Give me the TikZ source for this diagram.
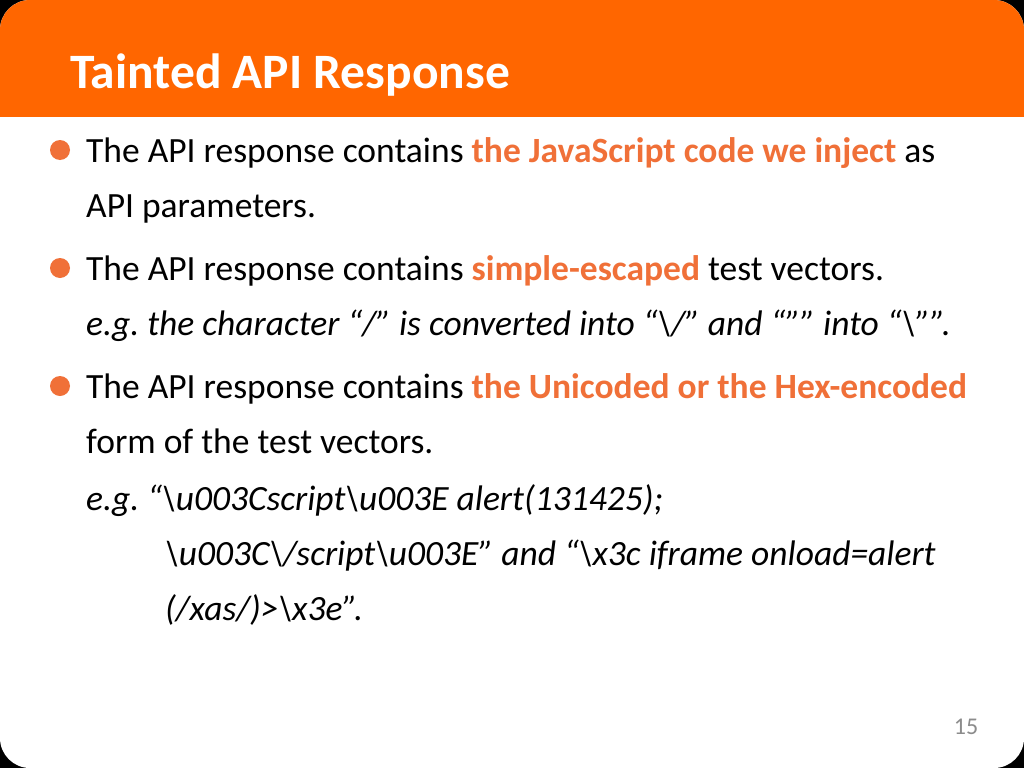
\documentclass[tikz,border=0pt]{standalone}
\usepackage{fontspec}
\setmainfont{Carlito}
\definecolor{headorange}{HTML}{FF6600}
\definecolor{hilite}{HTML}{F07038}
\definecolor{pagegray}{HTML}{8C8C8C}
\newcommand{\bsl}{\textbackslash}
\newcommand{\sq}{\symbol{"22}}
\begin{document}
\begin{tikzpicture}[x=1pt,y=-1pt,
    body/.style={anchor=base west,inner sep=0pt,font=\fontsize{35.5}{38}\selectfont},
    hl/.style={text=hilite}]
        \fill[black] (0,0) rectangle (1024,768);
        \begin{scope}
            \clip[rounded corners=30pt] (0,0) rectangle (1024,768);
            \fill[white] (0,0) rectangle (1024,768);
            \fill[headorange] (0,0) rectangle (1024,117);
        \end{scope}
        \node[anchor=base west,inner sep=0pt,text=white,font=\fontsize{49.5}{52}\selectfont\bfseries] (title) at (70,88) {Tainted API Response};
        
        \foreach \y in {150,268,386}{
            \fill[hilite] (60,\y) circle (10);
        }
        
        \node[body] (l1) at (86,162) {The API response contains \textbf{\color{hilite}the JavaScript code we inject} as};
        \node[body] (l2) at (86,217) {API parameters.};
        \node[body] (l3) at (86,280) {The API response contains \textbf{\color{hilite}simple-escaped} test vectors.};
        \node[body] (l4) at (86,335) {\itshape e.g.\ the character “/” is converted into “\bsl/” and “\sq” into “\bsl\sq”.};
        \node[body] (l5) at (86,398) {The API response contains \textbf{\color{hilite}the Unicoded or the Hex-encoded}};
        \node[body] (l6) at (86,453) {form of the test vectors.};
        \node[body] (l7) at (86,510) {\itshape e.g.\ “\bsl u003Cscript\bsl u003E alert(131425);};
        \node[body] (l8) at (165,565) {\itshape \bsl u003C\bsl/script\bsl u003E” and “\bsl x3c iframe onload=alert};
        \node[body] (l9) at (165,620) {\itshape (/xas/)>\bsl x3e”.};
        
        \node[anchor=base,inner sep=0pt,text=pagegray,font=\fontsize{24}{26}\selectfont] (page) at (966,734) {15};
    \end{tikzpicture}
\end{document}
